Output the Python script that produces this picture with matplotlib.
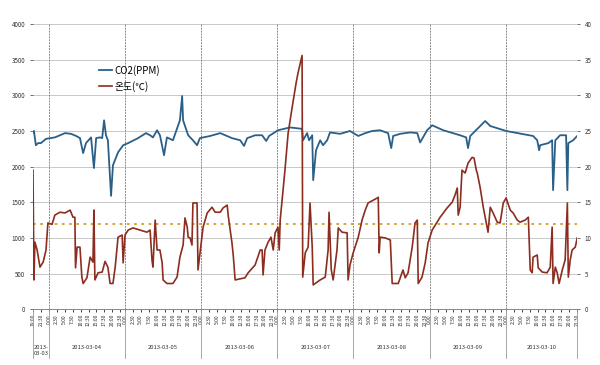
import matplotlib

matplotlib.use("Agg")
import matplotlib.pyplot as plt  # noqa: E402
import matplotlib.transforms as mtransforms  # noqa: E402

plt.rcParams["font.family"] = ["Noto Sans CJK KR", "DejaVu Sans"]

# hours since 2013-03-03 19:00
co2_t = [0.0, 0.3, 0.9, 1.6, 2.5, 4.1, 6.9, 10.1, 12.0, 13.6, 14.8, 15.8, 16.7,
         18.3, 19.2, 19.9, 21.1, 21.8, 22.4, 23.0, 23.6, 24.6, 25.2, 26.8, 28.4,
         30.0, 33.1, 35.6, 36.9, 37.8, 39.1, 40.0, 41.3, 42.2, 44.1, 46.3, 47.0,
         47.3, 48.9, 50.4, 51.7, 52.6, 55.8, 59.0, 62.7, 65.3, 66.5, 67.5, 70.0,
         72.2, 73.5, 74.4, 77.2, 81.0, 84.8, 85.1, 86.4, 87.0, 88.0, 88.3, 89.2,
         90.5, 91.4, 92.7, 93.6, 96.8, 99.9, 102.5, 104.7, 106.9, 109.4, 111.9,
         112.9, 113.5, 115.7, 118.9, 121.1, 122.0, 124.2, 125.8, 129.3, 134.6,
         136.5, 137.1, 137.8, 142.5, 144.1, 149.1, 157.6, 158.9, 159.5, 159.8,
         162.4, 163.6, 163.9, 164.6, 166.1, 168.0, 168.4, 168.7, 170.2, 171.5]
co2_ppm = [2480, 2500, 2300, 2330, 2330, 2390, 2410, 2470, 2460, 2430, 2400, 2190,
           2330, 2410, 1980, 2400, 2410, 2400, 2650, 2440, 2370, 1590, 2020, 2200,
           2300, 2330, 2400, 2470, 2440, 2410, 2510, 2440, 2160, 2410, 2370, 2650,
           2990, 2650, 2440, 2370, 2300, 2400, 2430, 2470, 2400, 2370, 2290, 2400,
           2440, 2440, 2360, 2430, 2510, 2550, 2530, 2370, 2470, 2370, 2440, 1810,
           2230, 2370, 2300, 2370, 2480, 2460, 2500, 2430, 2470, 2500, 2510, 2470,
           2260, 2430, 2460, 2480, 2470, 2340, 2510, 2580, 2510, 2440, 2410, 2260,
           2430, 2640, 2570, 2500, 2430, 2370, 2230, 2300, 2330, 2370, 1670, 2370,
           2440, 2440, 1670, 2330, 2370, 2430]

temp_t = [0.0, 0.3, 0.6, 1.3, 2.2, 3.2, 4.1, 4.7, 6.0, 6.9, 8.5, 10.1, 11.7, 12.6,
          13.2, 13.4, 13.9, 14.8, 15.4, 15.8, 17.0, 18.0, 18.9, 19.2, 19.5, 20.5,
          21.8, 22.7, 23.6, 24.3, 25.2, 25.9, 26.8, 28.1, 28.4, 29.0, 30.0, 31.5,
          33.7, 35.9, 36.9, 37.5, 37.8, 38.5, 39.1, 40.0, 40.7, 41.0, 42.2, 44.1,
          45.4, 46.3, 47.3, 47.9, 48.6, 48.9, 49.5, 50.1, 50.4, 51.7, 52.0, 53.6,
          54.9, 56.4, 57.4, 59.0, 59.9, 61.2, 61.5, 62.7, 63.1, 63.7, 66.8, 67.8,
          70.0, 71.6, 72.2, 72.5, 73.1, 74.1, 75.0, 75.7, 76.3, 77.2, 77.6, 77.9,
          79.4, 80.4, 81.7, 82.9, 83.5, 84.8, 85.0, 85.8, 86.7, 87.3, 88.0, 88.3,
          90.5, 92.1, 93.0, 93.3, 94.0, 94.6, 95.8, 96.2, 97.4, 99.0, 99.3, 99.9,
          100.9, 102.5, 103.7, 104.7, 105.6, 108.5, 108.8, 109.1, 109.4, 111.0,
          112.6, 113.2, 115.1, 116.6, 117.3, 118.2, 119.5, 120.4, 121.1, 121.4,
          122.6, 123.6, 124.5, 125.8, 128.3, 130.5, 132.1, 133.0, 133.7, 134.0,
          134.6, 135.2, 136.2, 137.1, 138.4, 139.0, 139.7, 140.0, 140.9, 141.9,
          143.1, 143.4, 144.1, 145.0, 146.3, 147.2, 148.2, 149.1, 150.4, 151.3,
          152.6, 153.5, 155.1, 156.1, 156.7, 157.3, 157.6, 158.9, 159.2, 160.5,
          162.0, 163.0, 163.3, 163.6, 163.9, 164.6, 165.2, 165.8, 166.8, 167.7,
          168.4, 168.7, 169.3, 169.9, 170.9, 171.5]
temp_c = [19.5, 4.1, 9.4, 8.3, 5.9, 6.6, 8.3, 12.1, 11.9, 13.2, 13.6, 13.5, 13.9,
          12.9, 12.9, 5.8, 8.7, 8.7, 4.5, 3.6, 4.4, 7.3, 6.6, 13.9, 4.1, 5.1, 5.2,
          6.7, 5.9, 3.6, 3.6, 5.9, 10.1, 10.4, 6.5, 10.4, 11.1, 11.4, 11.1, 10.8,
          11.1, 6.9, 5.9, 12.5, 8.3, 8.3, 6.5, 4.1, 3.6, 3.6, 4.5, 7.3, 9.0, 12.8,
          11.5, 10.1, 10.0, 9.0, 14.9, 14.9, 5.5, 11.5, 13.5, 14.3, 13.6, 13.6,
          14.2, 14.6, 13.2, 9.3, 7.6, 4.1, 4.4, 5.1, 6.2, 8.3, 8.3, 4.8, 8.3, 9.4,
          10.1, 8.3, 10.7, 11.5, 8.3, 12.5, 19.5, 24.7, 28.4, 31.7, 33.1, 35.6,
          4.5, 7.9, 8.7, 14.9, 8.7, 3.4, 4.1, 4.5, 8.3, 13.6, 5.5, 4.1, 8.3, 11.4,
          10.8, 10.7, 4.1, 6.2, 7.9, 10.1, 12.5, 13.9, 14.9, 15.6, 15.7, 7.9, 10.1,
          10.0, 9.7, 3.6, 3.6, 5.5, 4.4, 5.1, 8.7, 12.1, 12.5, 3.6, 4.5, 6.5, 9.3,
          11.1, 12.9, 14.2, 15.0, 16.0, 17.0, 13.2, 14.3, 19.5, 19.1, 20.5, 21.3,
          21.2, 19.5, 19.1, 17.1, 14.3, 11.5, 10.8, 14.3, 13.5, 12.2, 12.1, 14.9,
          15.6, 13.9, 13.5, 12.5, 12.2, 12.5, 12.9, 5.5, 5.1, 7.3, 7.6, 5.8, 5.2,
          5.1, 5.9, 8.7, 11.5, 3.6, 5.9, 5.1, 3.6, 5.5, 6.9, 14.9, 4.5, 6.9, 8.3,
          8.7, 10.0]

ref_level = 1190
days = ["2013-\n03-03", "2013-03-04", "2013-03-05", "2013-03-06",
        "2013-03-07", "2013-03-08", "2013-03-09", "2013-03-10"]
day_start = [0.0, 5.0, 29.0, 53.0, 77.0, 101.0, 125.0, 149.0]
end_t = 171.5
hour_labels = ["0:00", "2:30", "5:00", "7:30", "10:00", "12:30",
               "15:00", "17:30", "20:00", "22:30"]
first_labels = ["19:00", "21:30"]


def main() -> None:
    fig = plt.figure(figsize=(6.0, 3.65), dpi=100)
    ax = fig.add_axes([0.055, 0.153, 0.907, 0.781])
    ax2 = ax.twinx()

    ax.set_xlim(0, end_t)
    ax.set_ylim(0, 4000)
    ax2.set_ylim(0, 40)
    ax.set_yticks(range(0, 4001, 500))
    ax2.set_yticks(range(0, 41, 5))

    ax.grid(True, axis="y", color="#c8c8c8", linewidth=0.7)
    for d in day_start[1:]:
        ax.axvline(d, color="#8a8a8a", linewidth=0.7, linestyle=(0, (2, 1)))

    ax.plot(co2_t, co2_ppm, color="#2a5f88", linewidth=1.3, label="CO2(PPM)")
    ax2.plot(temp_t, temp_c, color="#8c2d20", linewidth=1.2, label="온도(℃)")
    ax.axhline(ref_level, color="#d2a02a", linewidth=1.3, linestyle=(0, (1.5, 2.5)))

    # time ticks every 2.5 h inside each day
    ticks, labels = [], []
    for k, lab in enumerate(first_labels):
        ticks.append(k * 2.5)
        labels.append(lab)
    for d in day_start[1:]:
        for k, lab in enumerate(hour_labels):
            if d + k * 2.5 <= end_t + 0.01:
                ticks.append(d + k * 2.5)
                labels.append(lab)
    ax.set_xticks(ticks)
    ax.set_xticklabels(labels, rotation=90, fontsize=3.6, color="#333333")
    ax.tick_params(axis="x", length=2, width=0.5, pad=1.5)
    ax.tick_params(axis="y", labelsize=4.5, length=2, width=0.5, colors="#333333")
    ax2.tick_params(axis="y", labelsize=4.5, length=2, width=0.5, colors="#333333")

    for a in (ax, ax2):
        for side in ("top", "right", "left"):
            a.spines[side].set_visible(False)
        a.spines["bottom"].set_color("#8a8a8a")
        a.spines["bottom"].set_linewidth(0.7)

    # day group labels and separators below the axis
    trans = mtransforms.blended_transform_factory(ax.transData, ax.transAxes)
    bounds = day_start + [end_t]
    for i, name in enumerate(days):
        mid = (bounds[i] + bounds[i + 1]) / 2
        ax.text(mid, -0.125, name, transform=trans, ha="center", va="top",
                fontsize=4.2, color="#333333", linespacing=1.4)
    for b in bounds:
        ax.plot([b, b], [0, -0.17], transform=trans, color="#9a9a9a",
                linewidth=0.6, clip_on=False)

    h1, l1 = ax.get_legend_handles_labels()
    h2, l2 = ax2.get_legend_handles_labels()
    ax.legend(h1 + h2, l1 + l2, loc="upper left", bbox_to_anchor=(0.115, 0.87),
              frameon=False, fontsize=7, handlelength=1.3, handletextpad=0.2,
              labelspacing=0.5, borderaxespad=0)

    fig.savefig("out.png", dpi=100)
    plt.close(fig)


if __name__ == "__main__":
    main()
